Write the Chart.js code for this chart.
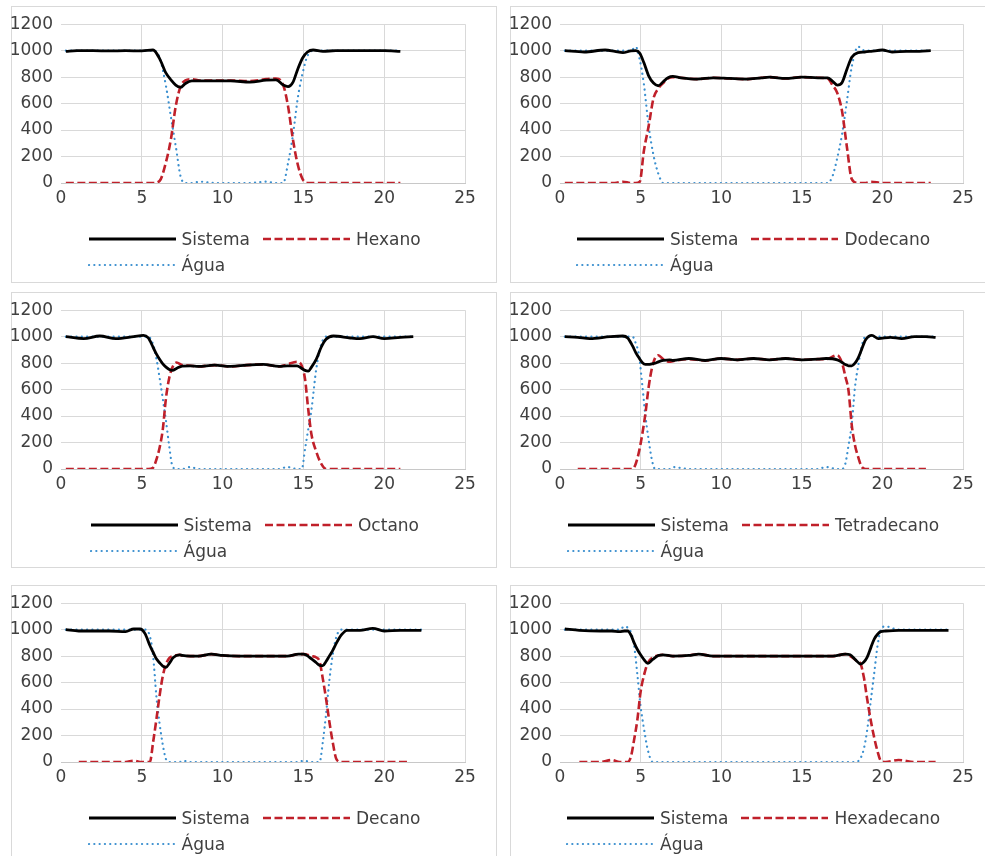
<!DOCTYPE html>
<html>
<head>
<meta charset="utf-8">
<script src="https://cdn.jsdelivr.net/npm/chart.js@4.4.1/dist/chart.umd.min.js"></script>
<style>
  html, body { margin: 0; padding: 0; background: #ffffff; }
  body { width: 985px; height: 856px; position: relative; overflow: hidden; font-family: "DejaVu Sans", sans-serif; }
  .panel { position: absolute; border: 1px solid #d9d9d9; box-sizing: border-box; }
  canvas { position: absolute; }
  .legend { position: absolute; color: #404040; font-size: 17px; white-space: nowrap; }
  .row { display: flex; align-items: center; height: 26px; }
  .item { display: flex; align-items: center; margin-right: 12px; }
  .item svg { display: block; margin-right: 6px; }
</style>
</head>
<body>
<script>
// ---------------- DATA ----------------
// Hexano
const hexX       = [0.3, 1, 2, 3, 4, 5, 5.7, 6.1, 6.5, 6.8, 7.1, 7.4, 7.7, 8.1, 8.6, 9.5, 10.5, 11.7, 12.7, 13.3, 13.75, 14.05, 14.35, 14.65, 14.95, 15.25, 15.6, 16.2, 17, 18, 19, 20, 21];
const hexSistema = [995, 1000, 1000, 998, 1000, 998, 1005, 940, 830, 780, 740, 722, 752, 772, 772, 772, 772, 762, 778, 780, 740, 728, 760, 860, 945, 990, 1005, 995, 1000, 1000, 1000, 1000, 995];
const hexOleo    = [0, 0, 0, 0, 0, 0, 0, 15, 160, 330, 580, 730, 775, 785, 775, 775, 775, 770, 785, 790, 740, 580, 330, 140, 30, 0, 0, 0, 0, 0, 0, 0, 0];
const hexAgua    = [1000, 1000, 1000, 1000, 1000, 1000, 1000, 950, 730, 500, 280, 50, 0, 0, 10, 0, 0, 0, 10, 0, 0, 150, 360, 640, 830, 960, 1000, 1000, 1000, 1000, 1000, 1000, 1000];

// Dodecano
const dodX       = [0.3, 1.5, 2.8, 3.4, 3.9, 4.4, 4.7, 4.95, 5.2, 5.5, 5.8, 6.1, 6.4, 6.7, 7.0, 7.5, 8.5, 9.5, 10.5, 11.5, 12.5, 13.0, 14.0, 15.0, 16.0, 16.6, 16.9, 17.2, 17.5, 17.8, 18.1, 18.5, 18.9, 19.3, 20.0, 20.6, 21.5, 22.3, 23.0];
const dodSistema = [1000, 990, 1005, 995, 985, 998, 1000, 980, 910, 810, 755, 735, 765, 795, 805, 795, 785, 795, 790, 785, 795, 800, 790, 800, 795, 795, 770, 740, 760, 860, 950, 985, 990, 995, 1005, 990, 995, 995, 1000];
const dodOleo    = [0, 0, 0, 0, 10, 0, 0, 10, 240, 430, 640, 715, 755, 790, 800, 795, 785, 795, 790, 785, 795, 800, 790, 800, 795, 790, 740, 680, 540, 270, 30, 0, 0, 10, 0, 0, 0, 0, 0];
const dodAgua    = [1000, 1000, 1000, 1000, 1000, 1000, 1030, 930, 750, 430, 210, 70, 0, 0, 0, 0, 0, 0, 0, 0, 0, 0, 0, 0, 0, 0, 50, 190, 370, 620, 880, 1030, 1000, 1000, 1000, 1000, 1000, 1000, 1000];

// Octano
const octX       = [0.3, 1.4, 2.4, 3.4, 4.5, 5.1, 5.4, 5.7, 5.9, 6.1, 6.3, 6.5, 6.7, 6.9, 7.15, 7.5, 8.0, 8.5, 9.5, 10.5, 11.5, 12.5, 13.5, 14.0, 14.6, 14.9, 15.1, 15.3, 15.5, 15.8, 16.1, 16.4, 16.85, 17.9, 18.5, 19.3, 20.0, 21.0, 21.8];
const octSistema = [1000, 985, 1005, 985, 1000, 1010, 990, 920, 870, 830, 795, 770, 752, 745, 760, 778, 780, 775, 785, 775, 785, 790, 775, 780, 780, 760, 745, 740, 770, 830, 920, 980, 1005, 990, 985, 1000, 985, 995, 1000];
const octOleo    = [0, 0, 0, 0, 0, 0, 0, 10, 70, 160, 300, 540, 690, 770, 805, 785, 780, 775, 785, 775, 785, 790, 775, 790, 810, 780, 680, 450, 260, 130, 40, 0, 0, 0, 0, 0, 0, 0, null];
const octAgua    = [1000, 1000, 1000, 1000, 1000, 1000, 1000, 940, 838, 690, 530, 360, 170, 20, 0, 0, 15, 0, 0, 0, 0, 0, 0, 15, 0, 0, 150, 300, 450, 760, 940, 1000, 1000, 1000, 1000, 1000, 1000, 1000, 1000];

// Tetradecano
const tetX       = [0.3, 1.1, 1.85, 3.1, 3.9, 4.2, 4.5, 4.7, 4.9, 5.1, 5.3, 5.5, 5.7, 5.9, 6.1, 6.4, 6.8, 7.0, 8.0, 9.0, 10.0, 11.0, 12.0, 13.0, 14.0, 15.0, 16.0, 16.5, 17.2, 17.5, 17.7, 17.9, 18.1, 18.3, 18.5, 18.7, 18.95, 19.35, 19.75, 20.5, 21.2, 22.0, 22.7, 23.3];
const tetSistema = [1000, 995, 985, 1000, 1005, 990, 930, 880, 840, 805, 790, 790, 795, 800, 810, 820, 825, 820, 835, 820, 835, 825, 835, 825, 835, 825, 830, 835, 825, 805, 790, 780, 780, 800, 840, 900, 975, 1010, 985, 995, 985, 1000, 1000, 995];
const tetOleo    = [null, 0, 0, 0, 0, 0, 0, 40, 130, 260, 420, 620, 760, 840, 860, 830, 810, 815, 830, 820, 835, 825, 835, 825, 835, 825, 830, 830, 860, 800, 700, 590, 330, 180, 90, 20, 0, 0, 0, 0, 0, 0, 0, null];
const tetAgua    = [1000, 1000, 1000, 1000, 1000, 1000, 1000, 950, 860, 640, 400, 220, 70, 0, 0, 0, 0, 15, 0, 0, 0, 0, 0, 0, 0, 0, 0, 15, 0, 0, 40, 180, 340, 620, 780, 920, 1000, 1000, 1000, 1000, 1000, 1000, 1000, 1000];

// Decano
const decX       = [0.3, 1.1, 2.0, 3.0, 4.0, 4.5, 4.9, 5.2, 5.5, 5.7, 5.9, 6.1, 6.3, 6.5, 6.7, 6.95, 7.35, 7.5, 8.0, 8.5, 9.3, 10.0, 11.0, 12.0, 13.0, 14.0, 14.7, 15.0, 15.5, 15.8, 16.0, 16.2, 16.4, 16.6, 16.8, 17.05, 17.35, 17.7, 18.5, 19.3, 20.0, 21.0, 21.6, 22.3];
const decSistema = [1000, 990, 990, 990, 985, 1005, 1005, 970, 880, 830, 780, 750, 725, 715, 745, 790, 810, 805, 800, 800, 815, 805, 800, 800, 800, 800, 815, 815, 780, 750, 730, 728, 760, 800, 840, 900, 960, 995, 995, 1010, 990, 995, 995, 995];
const decOleo    = [null, 0, 0, 0, 0, 10, 0, 0, 0, 150, 320, 500, 650, 740, 785, 800, 810, 805, 800, 800, 815, 805, 800, 800, 800, 800, 815, 815, 800, 790, 760, 630, 480, 310, 160, 20, 0, 0, 0, 0, 0, 0, 0, null];
const decAgua    = [1000, 1000, 1000, 1000, 1000, 1000, 1000, 1000, 950, 800, 500, 290, 130, 20, 0, 0, 0, 10, 0, 0, 0, 0, 0, 0, 0, 0, 0, 10, 0, 0, 0, 150, 360, 610, 800, 950, 1000, 1000, 1000, 1000, 1000, 1000, 1000, 1000];

// Hexadecano
const hdcX       = [0.3, 1.2, 2.5, 3.2, 3.7, 4.0, 4.2, 4.4, 4.6, 4.8, 5.0, 5.2, 5.45, 5.75, 6.1, 6.4, 7.0, 8.0, 8.6, 9.5, 10.5, 12.0, 13.5, 15.0, 16.9, 17.7, 18.0, 18.35, 18.65, 18.85, 19.05, 19.3, 19.5, 19.7, 19.9, 20.2, 21.0, 22.0, 23.3, 24.1];
const hdcSistema = [1005, 995, 990, 990, 985, 990, 990, 960, 900, 850, 810, 775, 745, 775, 805, 810, 800, 805, 815, 800, 800, 800, 800, 800, 800, 815, 810, 770, 740, 755, 790, 870, 930, 965, 985, 990, 995, 995, 995, 995];
const hdcOleo    = [null, 0, 0, 15, 0, 0, 0, 40, 170, 320, 530, 650, 750, 790, 805, 810, 800, 805, 815, 800, 800, 800, 800, 800, 800, 815, 800, 770, 740, 640, 480, 300, 180, 80, 10, 0, 15, 0, 0, null];
const hdcAgua    = [1000, 1000, 1000, 1000, 1000, 1025, 1015, 980, 880, 660, 420, 260, 90, 0, 0, 0, 0, 0, 0, 0, 0, 0, 0, 0, 0, 0, 0, 0, 30, 100, 236, 484, 680, 880, 1000, 1025, 1000, 1000, 1000, 1000];

// Axis ticks
const xTicks = [0, 5, 10, 15, 20, 25];
const yTicks = [0, 200, 400, 600, 800, 1000, 1200];

const seriesNames = ['Sistema', 'Água'];
const oilNames = ['Hexano', 'Dodecano', 'Octano', 'Tetradecano', 'Decano', 'Hexadecano'];

// ---------------- LAYOUT / STYLE ----------------
const panels = [
  { left: 11,  top: 6,   h: 277, name: oilNames[0], x: hexX, s: hexSistema, o: hexOleo, a: hexAgua, rpad: 32 },
  { left: 510, top: 6,   h: 277, name: oilNames[1], x: dodX, s: dodSistema, o: dodOleo, a: dodAgua, rpad: 33 },
  { left: 11,  top: 292, h: 276, name: oilNames[2], x: octX, s: octSistema, o: octOleo, a: octAgua, rpad: 32 },
  { left: 510, top: 292, h: 276, name: oilNames[3], x: tetX, s: tetSistema, o: tetOleo, a: tetAgua, rpad: 33 },
  { left: 11,  top: 585, h: 290, name: oilNames[4], x: decX, s: decSistema, o: decOleo, a: decAgua, rpad: 32 },
  { left: 510, top: 585, h: 290, name: oilNames[5], x: hdcX, s: hdcSistema, o: hdcOleo, a: hdcAgua, rpad: 33 }
];
const PW = 486, CH = 230, PAD_TOP = 16, PLOT_H = 161, YAXIS_W = 50;
const BLACK = '#000000', RED = '#c0202a', BLUE = '#3a8fcf';
const TXT = '#404040', GRID = '#d9d9d9';
const FONT = { family: 'DejaVu Sans', size: 17 };

function pts(xs, ys) { return xs.map((x, i) => ({ x: x, y: ys[i] })); }

function lineSvg(color, width, dash, cap) {
  return '<svg width="88" height="8"><line x1="1" y1="4" x2="88" y2="4" stroke="' + color +
    '" stroke-width="' + width + '"' + (dash ? ' stroke-dasharray="' + dash + '"' : '') +
    ' stroke-linecap="' + (cap || 'butt') + '"/></svg>';
}

panels.forEach(p => {
  const box = document.createElement('div');
  box.className = 'panel';
  box.style.left = p.left + 'px';
  box.style.top = p.top + 'px';
  box.style.width = PW + 'px';
  box.style.height = p.h + 'px';
  document.body.appendChild(box);

  const cv = document.createElement('canvas');
  cv.width = PW; cv.height = CH;
  cv.style.left = p.left + 'px';
  cv.style.top = p.top + 'px';
  cv.style.width = PW + 'px';
  cv.style.height = CH + 'px';
  document.body.appendChild(cv);

  new Chart(cv.getContext('2d'), {
    type: 'line',
    data: {
      datasets: [
        { label: seriesNames[0], data: pts(p.x, p.s), borderColor: BLACK, borderWidth: 2.8,
          pointRadius: 0, cubicInterpolationMode: 'monotone', fill: false },
        { label: p.name, data: pts(p.x, p.o), borderColor: RED, borderWidth: 2.6, borderDash: [8, 3.5],
          pointRadius: 0, cubicInterpolationMode: 'monotone', fill: false, spanGaps: false },
        { label: seriesNames[1], data: pts(p.x, p.a), borderColor: BLUE, borderWidth: 2.2, borderDash: [0.1, 5.2],
          borderCapStyle: 'round', pointRadius: 0, cubicInterpolationMode: 'monotone', fill: false }
      ]
    },
    options: {
      responsive: false,
      animation: false,
      devicePixelRatio: 1,
      layout: { padding: { top: PAD_TOP, right: p.rpad, bottom: 0, left: 0 } },
      plugins: { legend: { display: false }, tooltip: { enabled: false } },
      scales: {
        x: {
          type: 'linear', min: 0, max: 25,
          afterBuildTicks: s => { s.ticks = xTicks.map(v => ({ value: v })); },
          afterFit: s => { s.height = CH - PAD_TOP - PLOT_H; },
          ticks: { color: TXT, font: FONT, padding: 5, maxRotation: 0, callback: v => String(v) },
          grid: { color: c => (c.tick && c.tick.value === 0) ? 'rgba(0,0,0,0)' : GRID, lineWidth: 1, drawTicks: false },
          border: { display: true, color: '#c8c8c8', width: 1 }
        },
        y: {
          type: 'linear', min: 0, max: 1200,
          afterBuildTicks: s => { s.ticks = yTicks.map(v => ({ value: v })); },
          afterFit: s => { s.width = YAXIS_W; },
          ticks: { color: TXT, font: FONT, padding: 8, callback: v => String(v) },
          grid: { color: GRID, lineWidth: 1, drawTicks: false },
          border: { display: false }
        }
      }
    }
  });

  // legend (HTML)
  const lg = document.createElement('div');
  lg.className = 'legend';
  lg.innerHTML =
    '<div class="row">' +
      '<div class="item">' + lineSvg(BLACK, 2.8) + '<span>' + seriesNames[0] + '</span></div>' +
      '<div class="item" style="margin-right:0">' + lineSvg(RED, 2.6, '8 3.5') + '<span>' + p.name + '</span></div>' +
    '</div>' +
    '<div class="row">' +
      '<div class="item">' + lineSvg(BLUE, 2.2, '0.1 5.2', 'round') + '<span>' + seriesNames[1] + '</span></div>' +
    '</div>';
  document.body.appendChild(lg);
  const w = lg.offsetWidth;
  lg.style.left = (p.left + (PW - w) / 2) + 'px';
  lg.style.top = (p.top + 233 - 13) + 'px';
});
</script>
</body>
</html>
